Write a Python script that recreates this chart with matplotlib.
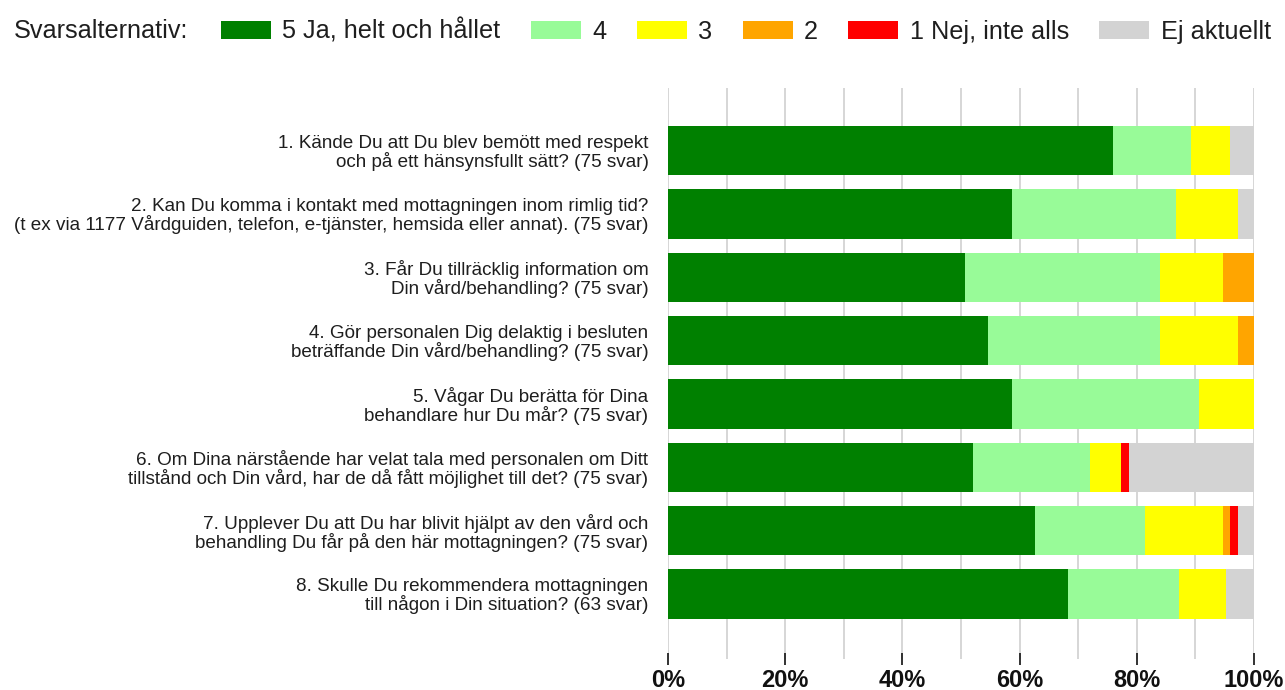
import matplotlib
matplotlib.use("Agg")
import matplotlib.pyplot as plt
import numpy as np
from matplotlib.patches import Patch

plt.rcParams['font.family'] = ['Liberation Sans', 'DejaVu Sans']

questions = [
    "1. Kände Du att Du blev bemött med respekt\noch på ett hänsynsfullt sätt? (75 svar)",
    "2. Kan Du komma i kontakt med mottagningen inom rimlig tid?\n(t ex via 1177 Vårdguiden, telefon, e-tjänster, hemsida eller annat). (75 svar)",
    "3. Får Du tillräcklig information om\nDin vård/behandling? (75 svar)",
    "4. Gör personalen Dig delaktig i besluten\nbeträffande Din vård/behandling? (75 svar)",
    "5. Vågar Du berätta för Dina\nbehandlare hur Du mår? (75 svar)",
    "6. Om Dina närstående har velat tala med personalen om Ditt\ntillstånd och Din vård, har de då fått möjlighet till det? (75 svar)",
    "7. Upplever Du att Du har blivit hjälpt av den vård och\nbehandling Du får på den här mottagningen? (75 svar)",
    "8. Skulle Du rekommendera mottagningen\ntill någon i Din situation? (63 svar)",
]

# counts per answer option
ans5 = [57, 44, 38, 41, 44, 39, 47, 43]
ans4 = [10, 21, 25, 22, 24, 15, 14, 12]
ans3 = [5, 8, 8, 10, 7, 4, 10, 5]
ans2 = [0, 0, 4, 2, 0, 0, 1, 0]
ans1 = [0, 0, 0, 0, 0, 1, 1, 0]
ej = [3, 2, 0, 0, 0, 16, 2, 3]

series_names = ["5 Ja, helt och hållet", "4", "3", "2", "1 Nej, inte alls", "Ej aktuellt"]
colors = ["#008000", "#98fb98", "#ffff00", "#ffa500", "#ff0000", "#d3d3d3"]
tick_vals = [0, 20, 40, 60, 80, 100]
tick_labels = ["0%", "20%", "40%", "60%", "80%", "100%"]

data = np.array([ans5, ans4, ans3, ans2, ans1, ej], dtype=float)
totals = data.sum(axis=0)
pct = data / totals * 100

fig = plt.figure(figsize=(12.85, 6.9), dpi=100)
ax = fig.add_axes([0.5198, 0.0449, 0.4560, 0.8275])

y = np.arange(len(questions))
left = np.zeros(len(questions))
for i in range(len(series_names)):
    ax.barh(y, pct[i], left=left, height=0.78, color=colors[i], edgecolor='none', zorder=2)
    left += pct[i]

ax.set_xlim(0, 100)
ax.set_ylim(len(questions) - 1 + 1.03, -0.99)
ax.set_xticks(tick_vals)
ax.set_xticklabels(tick_labels, fontsize=17, fontweight='bold', color='#111111')
ax.set_xticks(np.arange(0, 101, 10), minor=True)
ax.grid(True, axis='x', which='both', color='#d3d3d3', linewidth=1.3, zorder=0)
ax.tick_params(axis='x', which='major', length=8, width=1.3, color='#222222', direction='inout', pad=3)
ax.tick_params(axis='x', which='minor', length=0)
ax.set_yticks(y)
ax.set_yticklabels(questions, fontsize=13.6, color='#1e1e1e', linespacing=1.0)
ax.tick_params(axis='y', length=0, pad=14)
for s in ax.spines.values():
    s.set_visible(False)

handles = [Patch(facecolor=c, edgecolor='none') for c in colors]
fig.text(0.011, 0.955, "Svarsalternativ:", fontsize=18.2, color='#1e1e1e', va='center')
fig.legend(handles, series_names, loc='center left', bbox_to_anchor=(0.172, 0.955),
           ncol=6, frameon=False, fontsize=18.2, handlelength=1.98, handleheight=0.75,
           handletextpad=0.45, columnspacing=1.2, labelcolor='#1e1e1e',
           borderaxespad=0, borderpad=0)

fig.savefig("out.png", dpi=100)
